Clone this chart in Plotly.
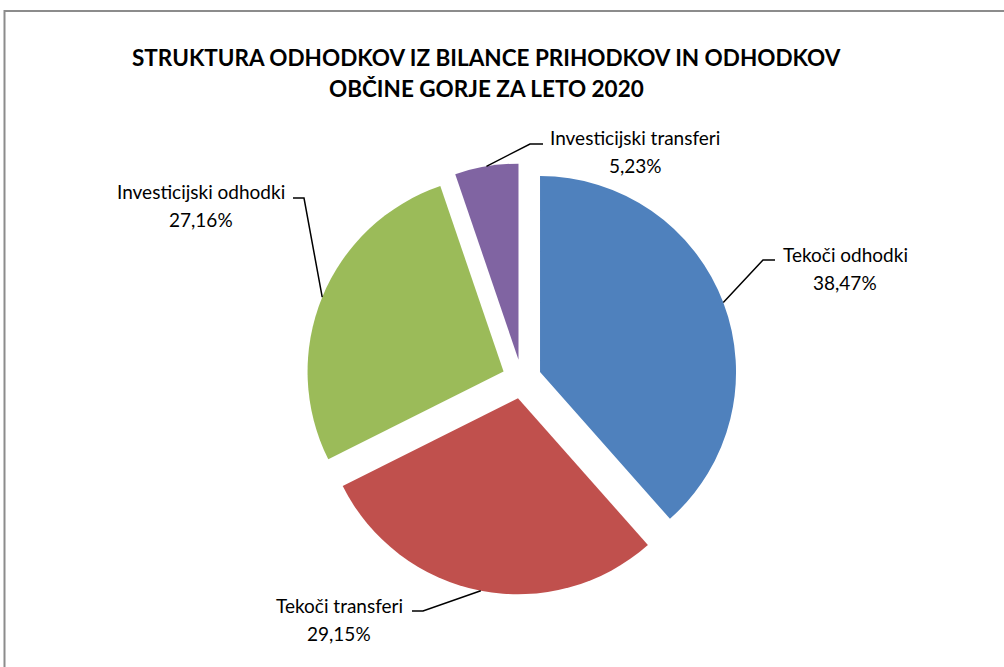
import math
import plotly.graph_objects as go

# ---- data ----
categories = ["Tekoči odhodki", "Tekoči transferi", "Investicijski odhodki", "Investicijski transferi"]
shares = [38.47, 29.15, 27.16, 5.23]
share_labels = ["38,47%", "29,15%", "27,16%", "5,23%"]
title_lines = ["STRUKTURA ODHODKOV IZ BILANCE PRIHODKOV IN ODHODKOV", "OBČINE GORJE ZA LETO 2020"]

# ---- style / layout ----
colors = ["#4F81BD", "#C0504D", "#9BBB59", "#8064A2"]
OFF = 0  # body margin removed via post_script
W, H = 1004, 667
FONT = "Lato"
PULL = 0.1
CX, CY, R = 521.7, 379.0, 196.0  # pie centre / radius in page pixels

# label placement: (elbow x, elbow y, end x, block centre x)
label_pos = [
    (763, 260, 775, 845),
    (423, 611, 412, 339),
    (304, 198, 293, 201),
    (530, 144, 543, 635),
]


def P(x, y):
    return ((x - OFF) / W, 1 - (y - OFF) / H)


side = 2 * R * (1 + PULL)
dx0, dy1 = P(CX - side / 2, CY - side / 2)
dx1, dy0 = P(CX + side / 2, CY + side / 2)

fig = go.Figure(go.Pie(
    labels=categories,
    values=shares,
    sort=False,
    direction="clockwise",
    rotation=0,
    pull=[PULL] * len(shares),
    marker=dict(colors=colors, line=dict(width=0)),
    textinfo="none",
    hoverinfo="label+percent",
    showlegend=False,
    domain=dict(x=[dx0, dx1], y=[dy0, dy1]),
))

shapes = []
annotations = []
total = sum(shares)
cum = 0.0
for i, v in enumerate(shares):
    mid = (cum + v / 2) / total * 2 * math.pi
    cum += v
    rr = R * (1 + PULL)
    sx = CX + rr * math.sin(mid)
    sy = CY - rr * math.cos(mid)
    ex, ey, endx, bcx = label_pos[i]
    a = P(sx, sy)
    b = P(ex, ey)
    c = P(endx, ey)
    shapes.append(dict(type="path", xref="paper", yref="paper",
                       path=f"M {a[0]},{a[1]} L {b[0]},{b[1]} L {c[0]},{c[1]}",
                       line=dict(color="black", width=1.5)))
    for txt, yy in ((categories[i], ey - 6), (share_labels[i], ey + 22)):
        px, py = P(bcx, yy)
        annotations.append(dict(x=px, y=py, xref="paper", yref="paper", text=txt,
                                showarrow=False, xanchor="center", yanchor="middle",
                                font=dict(family=FONT, size=19, color="black")))

for txt, yy in zip(title_lines, (58, 88)):
    px, py = P(486.5, yy)
    annotations.append(dict(x=px, y=py, xref="paper", yref="paper", text=f"<b>{txt}</b>",
                            showarrow=False, xanchor="center", yanchor="middle",
                            font=dict(family=FONT, size=22.5, color="black")))

bx0, by0 = P(4.5, 11)
shapes.append(dict(type="rect", xref="paper", yref="paper", x0=bx0, y0=by0, x1=1.02, y1=-0.02,
                   line=dict(color="#8C8C8C", width=2), fillcolor="rgba(0,0,0,0)"))

fig.update_layout(
    width=W, height=H,
    margin=dict(l=0, r=0, t=0, b=0),
    paper_bgcolor="white", plot_bgcolor="white",
    shapes=shapes, annotations=annotations,
    font=dict(family=FONT),
)

fig.write_html("out.html", config={"displayModeBar": False},
               post_script="document.body.style.margin='0px';")
